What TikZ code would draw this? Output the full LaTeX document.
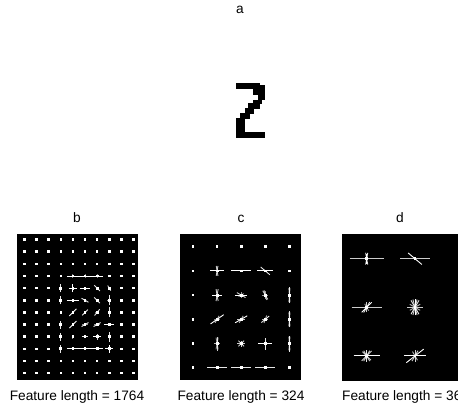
\documentclass[tikz,border=0pt]{standalone}
\usepackage{fontspec}
\setmainfont{Liberation Sans}
\tikzset{
  hog/.style={draw=white, line width=0.9pt},
  panel/.style={fill=black},
  lbl/.style={font=\fontsize{13.7}{15}\selectfont, inner sep=0pt, anchor=base},
  pix/.style={fill=black}
}
\newcommand{\cell}[3]{%
  \begin{scope}[shift={(#1,#2)}]
    \foreach \a/\l/\o in {#3} {\draw[hog, draw opacity=\o, rotate=\a] (-\l pt,0) -- (\l pt,0);}
    \fill[white] (-1.4pt,-1.4pt) rectangle (1.4pt,1.4pt);
  \end{scope}}
\newcommand{\dotcell}[2]{\fill[white,shift={(#1,#2)}] (-1.3pt,-1.3pt) rectangle (1.3pt,1.3pt);}
\begin{document}
\begin{tikzpicture}[x=1pt,y=-1pt]
\useasboundingbox (0,0) rectangle (458,405);
\fill[white] (0,0) rectangle (458,405);
% title a
\node[lbl] (ta) at (240,13) {a};
% digit 2
\fill[pix] (235.5,83) rectangle (260,88.5);
\fill[pix] (253.3,85) rectangle (265,95);
\fill[pix] (258.3,95) rectangle (265,100);
\fill[pix] (253.3,100) rectangle (262,103.5);
\fill[pix] (248.3,103.3) rectangle (260,108.5);
\fill[pix] (245,108.3) rectangle (254,113.5);
\fill[pix] (240,113.3) rectangle (250,119);
\fill[pix] (235.5,118) rectangle (245,138.3);
\fill[pix] (235.5,131.7) rectangle (265,138.3);
% panel b
\fill[panel] (17,234) rectangle (138,379.5);
\node[lbl] (tb) at (77,222) {b};
\node[lbl] (fb) at (77,400) {Feature length = 1764};
\begin{scope}[shift={(24.5,239.5)}, x=12.1pt, y=-12.15pt]
  \foreach \i in {0,...,9} \foreach \j in {0,1,2,10,11} {\dotcell{\i}{\j}}
  \foreach \j in {3,...,9} {\dotcell{0}{\j}\dotcell{1}{\j}\dotcell{2}{\j}\dotcell{8}{\j}\dotcell{9}{\j}}
  \dotcell{3}{3}\dotcell{7}{3}\dotcell{3}{6}
  % row 3
  \cell{4}{3}{0/6/1, 90/2/0.5}
  \cell{5}{3}{0/6/1, 90/2/0.5}
  \cell{6}{3}{0/6/1, 90/2/0.5}
  % row 4
  \cell{3}{4}{90/4/0.9}
  \cell{4}{4}{0/4/1, 90/4/1}
  \cell{5}{4}{0/5/1}
  \cell{6}{4}{-45/4/0.9}
  \cell{7}{4}{-60/3/0.8}
  % row 5
  \cell{3}{5}{90/4/0.9}
  \cell{4}{5}{0/6/1}
  \cell{5}{5}{-30/4/0.9}
  \cell{6}{5}{-45/4/0.9}
  \cell{7}{5}{90/5/0.9, 0/2/0.6}
  % row 6
  \cell{4}{6}{45/5/1}
  \cell{5}{6}{45/4/0.9}
  \cell{6}{6}{50/4/0.9, 0/2/0.5}
  \cell{7}{6}{90/5/0.9}
  % row 7
  \cell{3}{7}{90/4/0.9}
  \cell{4}{7}{45/5/1}
  \cell{5}{7}{30/4/0.9, 0/3/0.6}
  \cell{6}{7}{30/4/0.9, 0/3/0.6}
  \cell{7}{7}{0/5/1}
  % row 8
  \cell{3}{8}{90/4/0.9}
  \cell{4}{8}{90/2/0.5}
  \cell{5}{8}{0/3/0.9}
  \cell{6}{8}{0/4/1, 90/3/0.8}
  \cell{7}{8}{90/5/0.9}
  % row 9
  \cell{3}{9}{90/4/0.9}
  \cell{4}{9}{0/6/1}
  \cell{5}{9}{0/6/1}
  \cell{6}{9}{0/6/1}
  \cell{7}{9}{0/4/1, 90/4/1}
\end{scope}
% panel c
\fill[panel] (180,234) rectangle (301,380);
\node[lbl] (tc) at (241,222) {c};
\node[lbl] (fc) at (241,400) {Feature length = 324};
\begin{scope}[shift={(193,246.7)}, x=24.1pt, y=-24.2pt]
  \foreach \i in {0,...,4} {\dotcell{\i}{0}}
  \foreach \j in {1,...,5} {\dotcell{0}{\j}}
  \dotcell{4}{1}\dotcell{4}{5}
  \cell{1}{1}{0/7/1, 80/5/0.8, 100/5/0.8}
  \cell{2}{1}{0/10/1}
  \cell{3}{1}{0/8/1, -40/6/0.9}
  \cell{1}{2}{80/6/0.8, 100/6/0.8, 0/5/1}
  \cell{2}{2}{0/6/1, -30/5/0.8, 30/3/0.6, 90/3/0.6}
  \cell{3}{2}{-60/5/0.8, -75/5/0.7, 0/3/0.6, 90/4/0.6}
  \cell{4}{2}{90/8/0.9, 85/7/0.6, 95/7/0.6}
  \cell{1}{3}{35/8/1, 60/4/0.7, 0/3/0.5}
  \cell{2}{3}{30/7/1, 0/4/0.8, 60/4/0.7}
  \cell{3}{3}{40/5/0.9, 0/3/0.7, 70/4/0.7}
  \cell{4}{3}{90/8/0.9, 85/7/0.6, 95/7/0.6}
  \cell{1}{4}{90/7/0.8, 80/6/0.6, 100/6/0.6, 0/3/0.7}
  \cell{2}{4}{0/4/0.8, 45/4/0.8, -45/4/0.8, 90/3/0.8}
  \cell{3}{4}{0/7/1, 90/6/0.9}
  \cell{4}{4}{90/8/0.9, 85/7/0.6, 95/7/0.6}
  \cell{1}{5}{0/10/0.9}
  \cell{2}{5}{0/10/0.9}
  \cell{3}{5}{0/10/0.9}
\end{scope}
% panel d
\fill[panel] (341.5,234) rectangle (458,381);
\node[lbl] (td) at (400,222) {d};
\node[lbl, anchor=base west] (fd) at (342,400) {Feature length = 36};
\begin{scope}[shift={(366.7,258.7)}, x=48.3pt, y=-48.6pt]
  \cell{0}{0}{0/17/0.8, 80/6/0.9, 100/6/0.9, 90/5/1}
  \cell{1}{0}{0/15/0.8, -40/9/1}
  \cell{0}{1}{0/15/0.8, 45/7/1, 60/6/0.9, 90/5/0.8, 120/4/0.6}
  \cell{1}{1}{0/8/0.8, 90/8/1, 60/8/0.9, 120/8/0.9, 30/6/0.7, 150/6/0.7, 75/8/0.8, 105/8/0.8}
  \cell{0}{2}{0/13/1, 90/6/0.9, 45/7/0.8, 135/6/0.8, 60/6/0.8, 120/6/0.8}
  \cell{1}{2}{0/11/1, 38/11/1, 90/6/0.8, 60/6/0.8, 120/5/0.7}
\end{scope}
\end{tikzpicture}
\end{document}
